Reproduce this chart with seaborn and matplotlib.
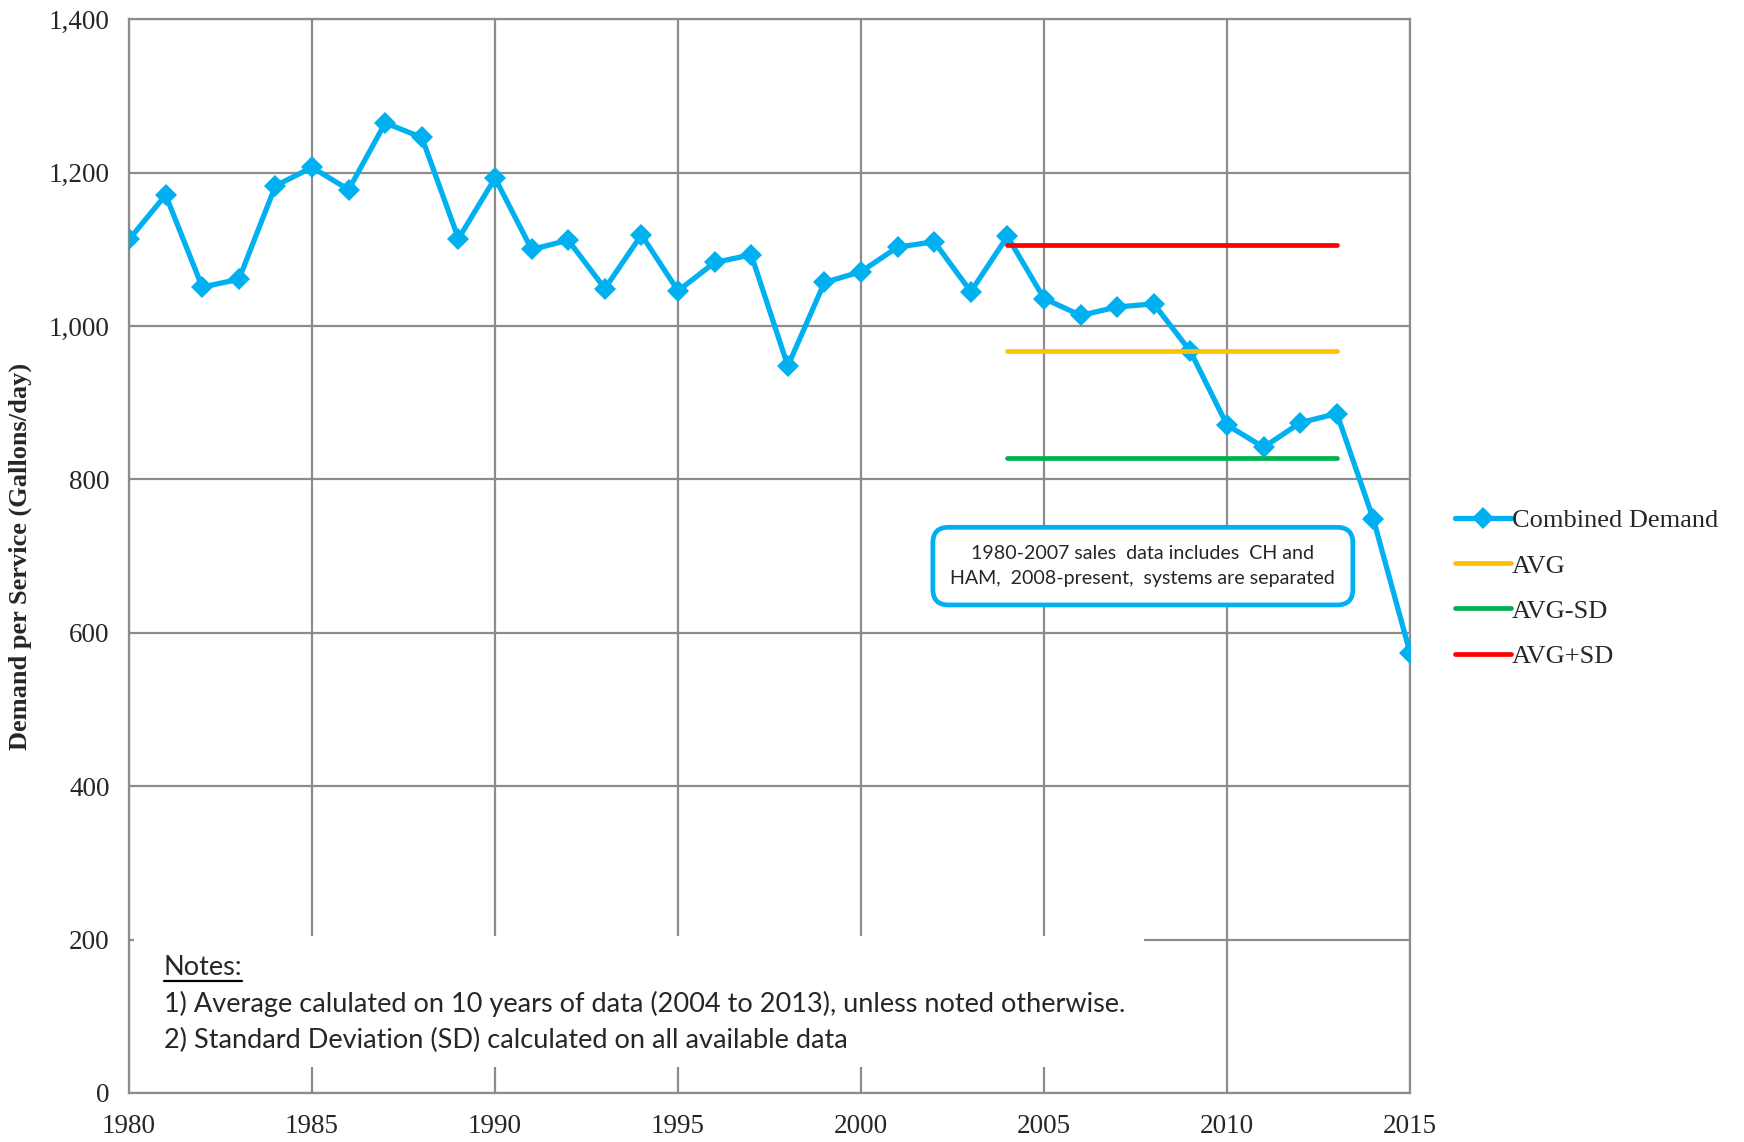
import numpy as np
import pandas as pd
import seaborn as sns
import matplotlib.pyplot as plt
from matplotlib.patches import Rectangle

# data
years = list(range(1980, 2016))
demand = [1113, 1171, 1051, 1061, 1183, 1207, 1178, 1265, 1246, 1114,
          1193, 1100, 1112, 1049, 1119, 1046, 1083, 1093, 948, 1057,
          1071, 1103, 1110, 1045, 1117, 1036, 1014, 1025, 1029, 967,
          871, 842, 874, 886, 748, 574]
band_years = [2004, 2013]
avg = [967, 967]
avg_minus_sd = [828, 828]
avg_plus_sd = [1106, 1106]

x_ticks = list(range(1980, 2016, 5))
y_ticks = list(range(0, 1401, 200))

df = pd.DataFrame({"year": years, "demand": demand})

sns.set_theme(style="white")
plt.rcParams['font.family'] = ['Liberation Serif', 'DejaVu Serif']

fig = plt.figure(figsize=(17.44, 11.42), dpi=100)
ax = fig.add_axes([0.074, 0.043, 0.7345, 0.940])

blue = "#00B0F0"
sns.lineplot(data=df, x="year", y="demand", ax=ax, color=blue, lw=3.8,
             marker="D", markersize=11, markeredgewidth=0, label="Combined Demand",
             zorder=4)
sns.lineplot(x=band_years, y=avg, ax=ax, color="#FFC000", lw=3.4,
             solid_capstyle="round", label="AVG", zorder=5)
sns.lineplot(x=band_years, y=avg_minus_sd, ax=ax, color="#00B050", lw=3.4,
             solid_capstyle="round", label="AVG-SD", zorder=5)
sns.lineplot(x=band_years, y=avg_plus_sd, ax=ax, color="#FF0000", lw=3.4,
             solid_capstyle="round", label="AVG+SD", zorder=5)

ax.set_xlim(1980, 2015)
ax.set_ylim(0, 1400)
ax.set_xticks(x_ticks)
ax.set_yticks(y_ticks)
ax.set_yticklabels([f"{v:,}" for v in y_ticks])
ax.grid(True, color="#8c8c8c", lw=1.6)
ax.set_axisbelow(True)
for s in ax.spines.values():
    s.set_color("#8c8c8c")
    s.set_linewidth(1.6)
ax.tick_params(axis="y", length=6, color="#8c8c8c", width=1.6, labelsize=19.5, pad=8)
ax.tick_params(axis="x", length=0, labelsize=19.5, pad=15)
ax.set_xlabel("")
ax.set_ylabel("Demand per Service (Gallons/day)", fontsize=19, fontweight="bold", labelpad=12)

# white notes block over grid
ax.add_patch(Rectangle((0.004, 0.024), 0.788, 0.122, transform=ax.transAxes,
                       facecolor="white", edgecolor="none", zorder=2))
notes_font = ['Lato', 'DejaVu Sans']
ax.text(0.027, 0.117, "Notes:", transform=ax.transAxes, fontsize=19.5,
        family=notes_font, zorder=3, va="center")
ax.plot([0.027, 0.088], [0.1045, 0.1045], transform=ax.transAxes, color="black",
        lw=1.6, zorder=3)
ax.text(0.027, 0.083, "1) Average calulated on 10 years of data (2004 to 2013), unless noted otherwise.",
        transform=ax.transAxes, fontsize=19.5, family=notes_font, zorder=3, va="center")
ax.text(0.027, 0.049, "2) Standard Deviation (SD) calculated on all available data",
        transform=ax.transAxes, fontsize=19.5, family=notes_font, zorder=3, va="center")

# annotation box
ax.text(2007.7, 687, "1980-2007 sales  data includes  CH and\nHAM,  2008-present,  systems are separated",
        ha="center", va="center", fontsize=14.1, family=notes_font, linespacing=1.6, zorder=6,
        bbox=dict(boxstyle="round,pad=0.9,rounding_size=0.8", facecolor="white",
                  edgecolor=blue, lw=3.4))

leg = ax.legend(loc="center left", bbox_to_anchor=(1.025, 0.47), frameon=False,
                fontsize=19, handlelength=2.1, handletextpad=0.05, labelspacing=0.82,
                borderpad=0)

fig.savefig("out.png", dpi=100)
